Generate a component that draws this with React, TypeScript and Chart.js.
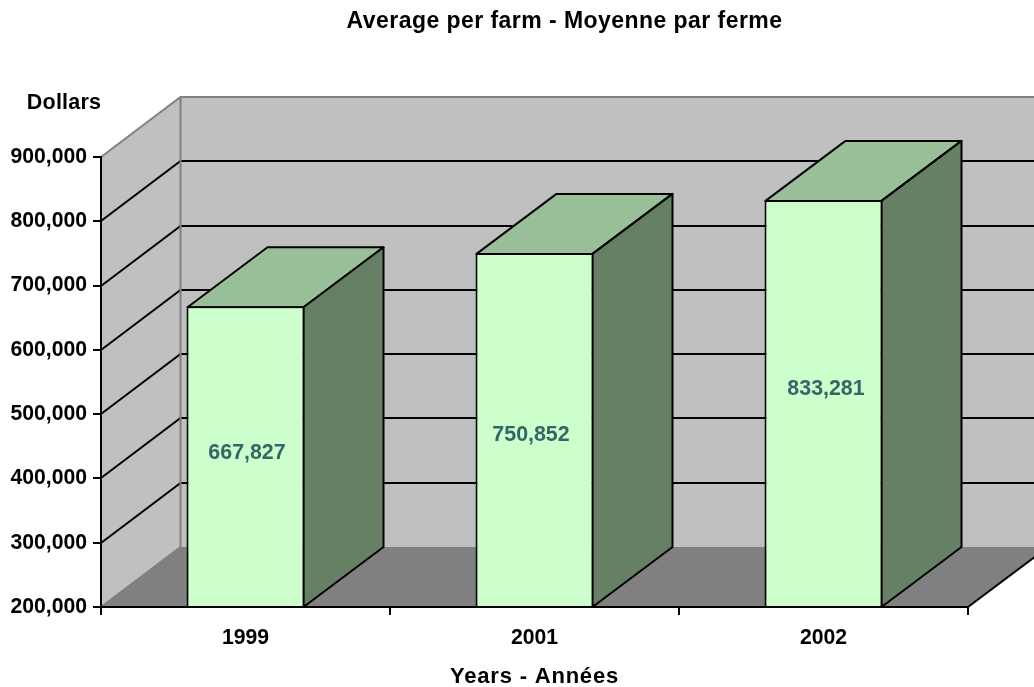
import React, { useEffect, useRef } from "react";
import { Chart, registerables } from "chart.js";

Chart.register(...registerables);

const categories = ["1999", "2001", "2002"];
const averagePerFarm = [667827, 750852, 833281];
const axisMin = 200000;
const axisMax = 900000;
const axisStep = 100000;

const chartTitle = "Average per farm - Moyenne par ferme";
const xAxisTitle = "Years - Années";
const yAxisTitle = "Dollars";

const DEPTH_X = 80;
const DEPTH_Y = 60;
const TICK_SIZE = 21.2;
const FONT = "'Liberation Sans', Arial, sans-serif";
const LABEL_SHIFT_X = [1.5, -3.5, 2.5];
const LABEL_SHIFT_Y = [-4, 5, -14];

const fmt = (v: number) => v.toLocaleString("en-US");

const scene = {
  id: "scene",
  beforeDraw(chart: any) {
    const { ctx, chartArea: a, scales } = chart;
    const y = scales.y;
    ctx.save();
    ctx.fillStyle = "#fff";
    ctx.fillRect(0, 0, chart.width, chart.height);
    const backLeft = a.left + DEPTH_X - 0.5;
    const backRight = a.right + DEPTH_X;
    const backTop = a.top - DEPTH_Y;
    const backBottom = a.bottom - DEPTH_Y;
    // left wall and back wall
    ctx.fillStyle = "#C0C0C0";
    ctx.beginPath();
    ctx.moveTo(a.left, a.top);
    ctx.lineTo(backLeft, backTop);
    ctx.lineTo(backRight, backTop);
    ctx.lineTo(backRight, backBottom);
    ctx.lineTo(backLeft, backBottom);
    ctx.lineTo(a.left, a.bottom);
    ctx.closePath();
    ctx.fill();
    // floor
    ctx.fillStyle = "#808080";
    ctx.beginPath();
    ctx.moveTo(a.left, a.bottom);
    ctx.lineTo(backLeft, backBottom);
    ctx.lineTo(backRight, backBottom);
    ctx.lineTo(a.right, a.bottom);
    ctx.closePath();
    ctx.fill();
    // gridlines
    ctx.lineWidth = 2;
    ctx.strokeStyle = "#000";
    for (let v = axisMin + axisStep; v < axisMax; v += axisStep) {
      const py = Math.round(y.getPixelForValue(v));
      ctx.beginPath();
      ctx.moveTo(a.left, py);
      ctx.lineTo(backLeft, py - DEPTH_Y);
      ctx.lineTo(backRight, py - DEPTH_Y);
      ctx.stroke();
    }
    // wall outlines
    ctx.strokeStyle = "#808080";
    ctx.beginPath();
    ctx.moveTo(a.left, a.top);
    ctx.lineTo(backLeft, backTop);
    ctx.lineTo(backRight, backTop);
    ctx.moveTo(backLeft, backTop);
    ctx.lineTo(backLeft, backBottom);
    ctx.lineTo(a.left, a.bottom);
    ctx.stroke();
    // floor front-right edge
    ctx.strokeStyle = "#000";
    ctx.beginPath();
    ctx.moveTo(a.right, a.bottom);
    ctx.lineTo(backRight, backBottom);
    ctx.stroke();
    ctx.restore();
  },
  beforeDatasetsDraw(chart: any) {
    const { ctx, chartArea: a } = chart;
    ctx.save();
    ctx.strokeStyle = "#000";
    ctx.lineWidth = 2;
    ctx.lineJoin = "round";
    chart.getDatasetMeta(0).data.forEach((bar: any) => {
      const { x, y, width } = bar.getProps(["x", "y", "width"], true);
      const l = x - width / 2 + 1;
      const r = x + width / 2 - 1;
      const top = y + 1;
      const bottom = a.bottom;
      ctx.fillStyle = "#99BF99";
      ctx.beginPath();
      ctx.moveTo(l, top);
      ctx.lineTo(l + DEPTH_X, top - DEPTH_Y);
      ctx.lineTo(r + DEPTH_X, top - DEPTH_Y);
      ctx.lineTo(r, top);
      ctx.closePath();
      ctx.fill();
      ctx.stroke();
      ctx.fillStyle = "#668066";
      ctx.beginPath();
      ctx.moveTo(r, top);
      ctx.lineTo(r + DEPTH_X, top - DEPTH_Y);
      ctx.lineTo(r + DEPTH_X, bottom - DEPTH_Y);
      ctx.lineTo(r, bottom);
      ctx.closePath();
      ctx.fill();
      ctx.stroke();
    });
    ctx.restore();
  },
  afterDatasetsDraw(chart: any) {
    const { ctx, chartArea: a } = chart;
    ctx.save();
    ctx.textAlign = "center";
    ctx.textBaseline = "middle";
    ctx.font = `bold 21.4px ${FONT}`;
    ctx.fillStyle = "#336666";
    chart.getDatasetMeta(0).data.forEach((bar: any, i: number) => {
      const { x, y } = bar.getProps(["x", "y"], true);
      ctx.fillText(fmt(averagePerFarm[i]), x + LABEL_SHIFT_X[i], (y + a.bottom) / 2 + LABEL_SHIFT_Y[i]);
    });
    ctx.fillStyle = "#000";
    ctx.font = `bold 23px ${FONT}`;
    ctx.letterSpacing = "0.45px";
    ctx.fillText(chartTitle, a.left + (a.right - a.left) / 2 + 30, 22);
    ctx.font = `bold 22px ${FONT}`;
    ctx.letterSpacing = "0.8px";
    ctx.fillText(xAxisTitle, a.left + (a.right - a.left) / 2, 677);
    ctx.font = `bold 21.5px ${FONT}`;
    ctx.letterSpacing = "0.2px";
    ctx.fillText(yAxisTitle, a.left - 37, 103);
    ctx.restore();
  },
};

export default function App() {
  const ref = useRef<HTMLCanvasElement>(null);
  useEffect(() => {
    document.body.style.margin = "0";
    const chart = new Chart(ref.current!, {
      type: "bar",
      data: {
        labels: categories,
        datasets: [
          {
            data: averagePerFarm,
            base: axisMin,
            backgroundColor: "#CCFFCC",
            borderColor: "#000",
            borderWidth: 2,
            borderSkipped: "bottom",
            barPercentage: 118 / 289,
            categoryPercentage: 1,
          },
        ],
      },
      options: {
        responsive: false,
        animation: false,
        layout: { padding: { left: 0, right: 66, top: 157, bottom: 0 } },
        plugins: { legend: { display: false }, title: { display: false }, tooltip: { enabled: false } },
        scales: {
          x: {
            afterFit: (s: any) => {
              s.height = 80;
            },
            border: { color: "#000", width: 2, z: 1 },
            grid: { drawOnChartArea: false, drawTicks: true, tickLength: 8, color: "#000", lineWidth: 2 },
            ticks: { color: "#000", font: { family: FONT, size: TICK_SIZE, weight: "bold" }, padding: 10, maxRotation: 0 },
          },
          y: {
            min: axisMin,
            max: axisMax,
            afterFit: (s: any) => {
              s.width = 101;
            },
            border: { color: "#000", width: 2 },
            grid: { drawOnChartArea: false, drawTicks: true, tickLength: 8, color: "#000", lineWidth: 2 },
            ticks: {
              stepSize: axisStep,
              color: "#000",
              font: { family: FONT, size: TICK_SIZE, weight: "bold" },
              padding: 6,
              callback: (v: any) => fmt(Number(v)),
            },
          },
        },
      },
      plugins: [scene],
    } as any);
    return () => chart.destroy();
  }, []);
  return (
    <div style={{ width: 1034, height: 687 }}>
      <canvas ref={ref} width={1034} height={687} style={{ display: "block" }} />
    </div>
  );
}
